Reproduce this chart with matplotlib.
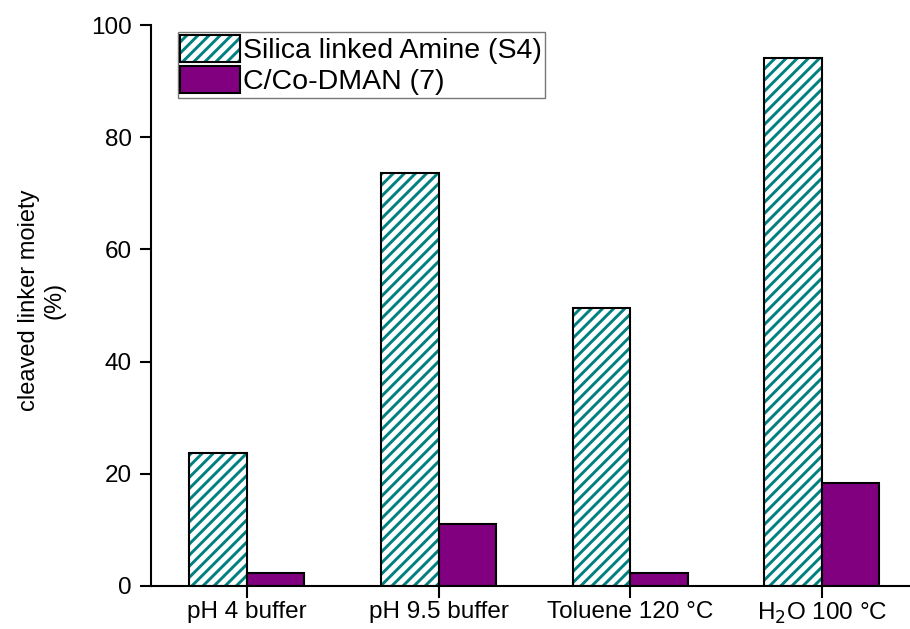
import matplotlib
matplotlib.use("Agg")
import matplotlib.pyplot as plt
import matplotlib.patches as mpatches
import numpy as np

plt.rcParams['font.family'] = ['Liberation Sans', 'DejaVu Sans']
plt.rcParams['hatch.linewidth'] = 2.1

categories = ['pH 4 buffer', 'pH 9.5 buffer', 'Toluene 120 °C', 'H$_2$O 100 °C']
silica_amine = [23.7, 73.6, 49.6, 94.1]
co_dman = [2.3, 11.0, 2.4, 18.3]
series_names = ['Silica linked Amine (S4)', 'C/Co-DMAN (7)']

teal = '#008080'
purple = '#800080'
hatch = '///'

fig = plt.figure(figsize=(9.1, 6.29), dpi=100)
ax = fig.add_axes([0.166, 0.0684, 0.834, 0.8916])

x = np.arange(len(categories))
w = 0.3
# hatched fill (hatch colour follows edge colour), then black outline
ax.bar(x - w/2, silica_amine, w, facecolor='white', edgecolor=teal, hatch=hatch,
       linewidth=0)
ax.bar(x - w/2, silica_amine, w, fill=False, edgecolor='black', linewidth=1.5)
ax.bar(x + w/2, co_dman, w, facecolor=purple, edgecolor='black', linewidth=1.5)

ax.set_xlim(-0.5, 3.46)
ax.set_ylim(0, 100)
ax.set_yticks([0, 20, 40, 60, 80, 100])
ax.set_xticks(x)
ax.set_xticklabels(categories, fontsize=17.5)
ax.tick_params(axis='y', labelsize=17.5, direction='out', length=8, width=1.5, pad=6)
ax.tick_params(axis='x', direction='out', length=8.5, width=1.5, pad=2)
for s in ['top', 'right']:
    ax.spines[s].set_visible(False)
for s in ['left', 'bottom']:
    ax.spines[s].set_linewidth(1.5)

ax.set_ylabel('cleaved linker moiety\n(%)', fontsize=17, linespacing=1.2)
ax.yaxis.set_label_coords(-0.113, 0.51)

h1 = (mpatches.Patch(facecolor='white', edgecolor=teal, hatch=hatch, linewidth=0),
      mpatches.Patch(fill=False, edgecolor='black', linewidth=1.5))
h2 = mpatches.Patch(facecolor=purple, edgecolor='black', linewidth=1.5)
leg = ax.legend([h1, h2], series_names, loc='upper left', bbox_to_anchor=(0.035, 0.988),
                fontsize=20.5, frameon=True, fancybox=False, handlelength=2.1,
                handleheight=1.09, handletextpad=0.1, borderpad=0.1, labelspacing=0.06,
                borderaxespad=0)
leg.get_frame().set_edgecolor('#555555')
leg.get_frame().set_linewidth(1.0)

fig.savefig('out.png', dpi=100)
